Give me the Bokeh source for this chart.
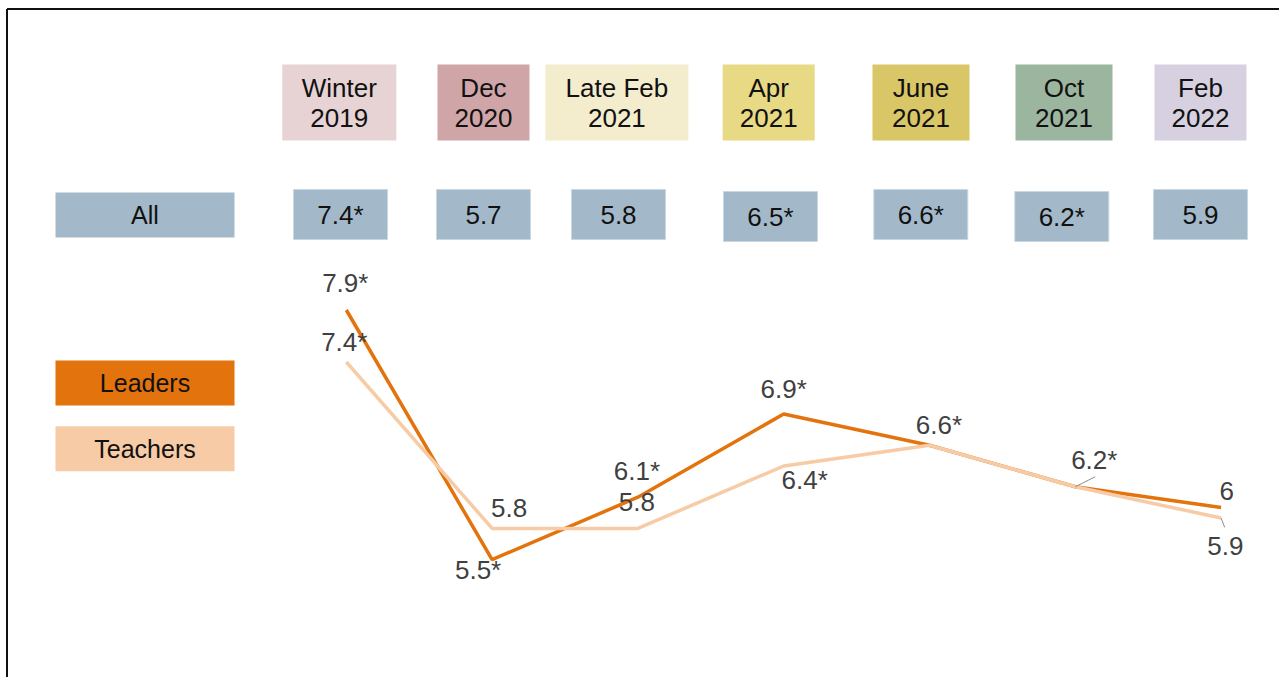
from bokeh.plotting import figure
from bokeh.models import ColumnDataSource, Range1d
from bokeh.core.properties import value
from bokeh.embed import file_html
from bokeh.resources import INLINE

# ---------------- data ----------------
periods = ["Winter\n2019", "Dec\n2020", "Late Feb\n2021", "Apr\n2021",
           "June\n2021", "Oct\n2021", "Feb\n2022"]
all_values = [7.4, 5.7, 5.8, 6.5, 6.6, 6.2, 5.9]
all_sig = [1, 0, 0, 1, 1, 1, 0]
leaders = [7.9, 5.5, 6.1, 6.9, 6.6, 6.2, 6.0]
leaders_sig = [1, 1, 1, 1, 1, 1, 0]
teachers = [7.4, 5.8, 5.8, 6.4, 6.6, 6.2, 5.9]
teachers_sig = [1, 0, 0, 1, 1, 1, 0]
teachers_shown = [1, 1, 1, 1, 0, 0, 1]
row_label = "All"
series_names = ["Leaders", "Teachers"]

# ---------------- styles ----------------
period_colors = ["#E7D3D4", "#D0A5A7", "#F3ECCD", "#E8D985",
                 "#D9C666", "#9BB59F", "#D6D0E0"]
ALL_COLOR = "#A3B9C9"
LEADER_COLOR = "#E3730D"
TEACHER_COLOR = "#F7CBA5"
BOX_TEXT = "#111111"
LABEL_TEXT = "#404040"
FONT = value("Liberation Sans")

# ---------------- layout (pixels) ----------------
W, H = 1279, 677
PX_X = 145.8          # pixels per period step
PX_Y = 104.0          # pixels per score point
X_START = -2.3717     # data x at left canvas edge
Y_END = 10.876        # data y at top canvas edge
X_END = X_START + W / PX_X
Y_START = Y_END - H / PX_Y


def xd(px):
    return X_START + px / PX_X


def yd(px):
    return Y_END - px / PX_Y


head_dx = [-7, -8.6, -21, -15, -8.5, -11.3, -20.6]
head_w = [114, 92, 143, 92, 97, 97, 92]
all_dx = [-5.8, -8.6, -19.4, -13.2, -8.7, -13.5, -20.6]
all_dy = [0, 0, 0, 2, 0, 2, 0]
lead_off = [(-1, -27), (-14, 11), (-1, -26), (0, -25), (9.5, -20), (19, -26), (5.6, -16.6)]
teach_off = [(-2, -19.5), (17, -20), (-1, -26), (21, 14), (0, 0), (0, 0), (4.3, 28.5)]
BASE_ADJ = -0.5

idx = list(range(len(periods)))


def fmt(v, s):
    return f"{v:g}" + ("*" if s else "")


p = figure(width=W, height=H, x_range=Range1d(X_START, X_END),
           y_range=Range1d(Y_START, Y_END), output_backend="svg",
           toolbar_location=None, min_border=0, x_axis_type=None,
           y_axis_type=None, outline_line_color=None,
           background_fill_color="white", border_fill_color="white")
p.grid.visible = False

# frame border (top and left only, the rest is outside the view)
p.segment(x0=[xd(6.5), xd(6.5)], y0=[yd(8.5), yd(8.5)],
          x1=[X_END + 1, xd(6.5)], y1=[yd(8.5), Y_START - 1],
          line_color="#111111", line_width=2)

# header period boxes
hsrc = ColumnDataSource(dict(
    x=[i + d / PX_X for i, d in zip(idx, head_dx)],
    y=[yd(102)] * len(idx),
    w=head_w, color=period_colors, text=periods))
p.rect(x="x", y="y", width="w", height=76, width_units="screen",
       height_units="screen", fill_color="color", line_color=None, source=hsrc)
p.text(x="x", y="y", text="text", source=hsrc, text_align="center",
       text_baseline="middle", text_font=FONT, text_font_size="26px",
       text_color=BOX_TEXT, text_line_height=1.0)

# "All" row
asrc = ColumnDataSource(dict(
    x=[i + d / PX_X for i, d in zip(idx, all_dx)],
    y=[yd(214 + d) for d in all_dy],
    text=[fmt(v, s) for v, s in zip(all_values, all_sig)]))
p.rect(x="x", y="y", width=94, height=50, width_units="screen",
       height_units="screen", fill_color=ALL_COLOR, line_color="#C9D7E1",
       line_width=1, source=asrc)
p.text(x="x", y="y", text="text", source=asrc, text_align="center",
       text_baseline="middle", text_font=FONT, text_font_size="26px",
       text_color=BOX_TEXT)

# row / legend label boxes
lsrc = ColumnDataSource(dict(
    x=[xd(144.5)] * 3,
    y=[yd(214.5), yd(382.5), yd(448.3)],
    color=[ALL_COLOR, LEADER_COLOR, TEACHER_COLOR],
    text=[row_label] + series_names))
p.rect(x="x", y="y", width=179, height=45, width_units="screen",
       height_units="screen", fill_color="color", line_color=None, source=lsrc)
p.text(x="x", y="y", text="text", source=lsrc, text_align="center",
       text_baseline="middle", text_font=FONT, text_font_size="25px",
       text_color=BOX_TEXT)

# lines
p.line(idx, leaders, line_color=LEADER_COLOR, line_width=3.5)
p.line(idx, teachers, line_color=TEACHER_COLOR, line_width=3.5)

# leader lines for crowded labels
p.segment(x0=[5, 6], y0=[leaders[5], teachers[6]],
          x1=[5 + 19.8 / PX_X, 6 + 3.6 / PX_X],
          y1=[leaders[5] + 10 / PX_Y, teachers[6] - 9.4 / PX_Y],
          line_color="#8c8c8c", line_width=1)

# data labels
tx, ty, tt, ox, oy = [], [], [], [], []
for i in idx:
    tx.append(i); ty.append(leaders[i]); tt.append(fmt(leaders[i], leaders_sig[i]))
    ox.append(lead_off[i][0]); oy.append(lead_off[i][1] + BASE_ADJ)
for i in idx:
    if teachers_shown[i]:
        tx.append(i); ty.append(teachers[i]); tt.append(fmt(teachers[i], teachers_sig[i]))
        ox.append(teach_off[i][0]); oy.append(teach_off[i][1] + BASE_ADJ)
dsrc = ColumnDataSource(dict(x=tx, y=ty, text=tt, ox=ox, oy=oy))
p.text(x="x", y="y", text="text", x_offset="ox", y_offset="oy", source=dsrc,
       text_align="center", text_baseline="middle", text_font=FONT,
       text_font_size="26px", text_color=LABEL_TEXT)

open("out.html", "w").write(file_html(p, INLINE))
